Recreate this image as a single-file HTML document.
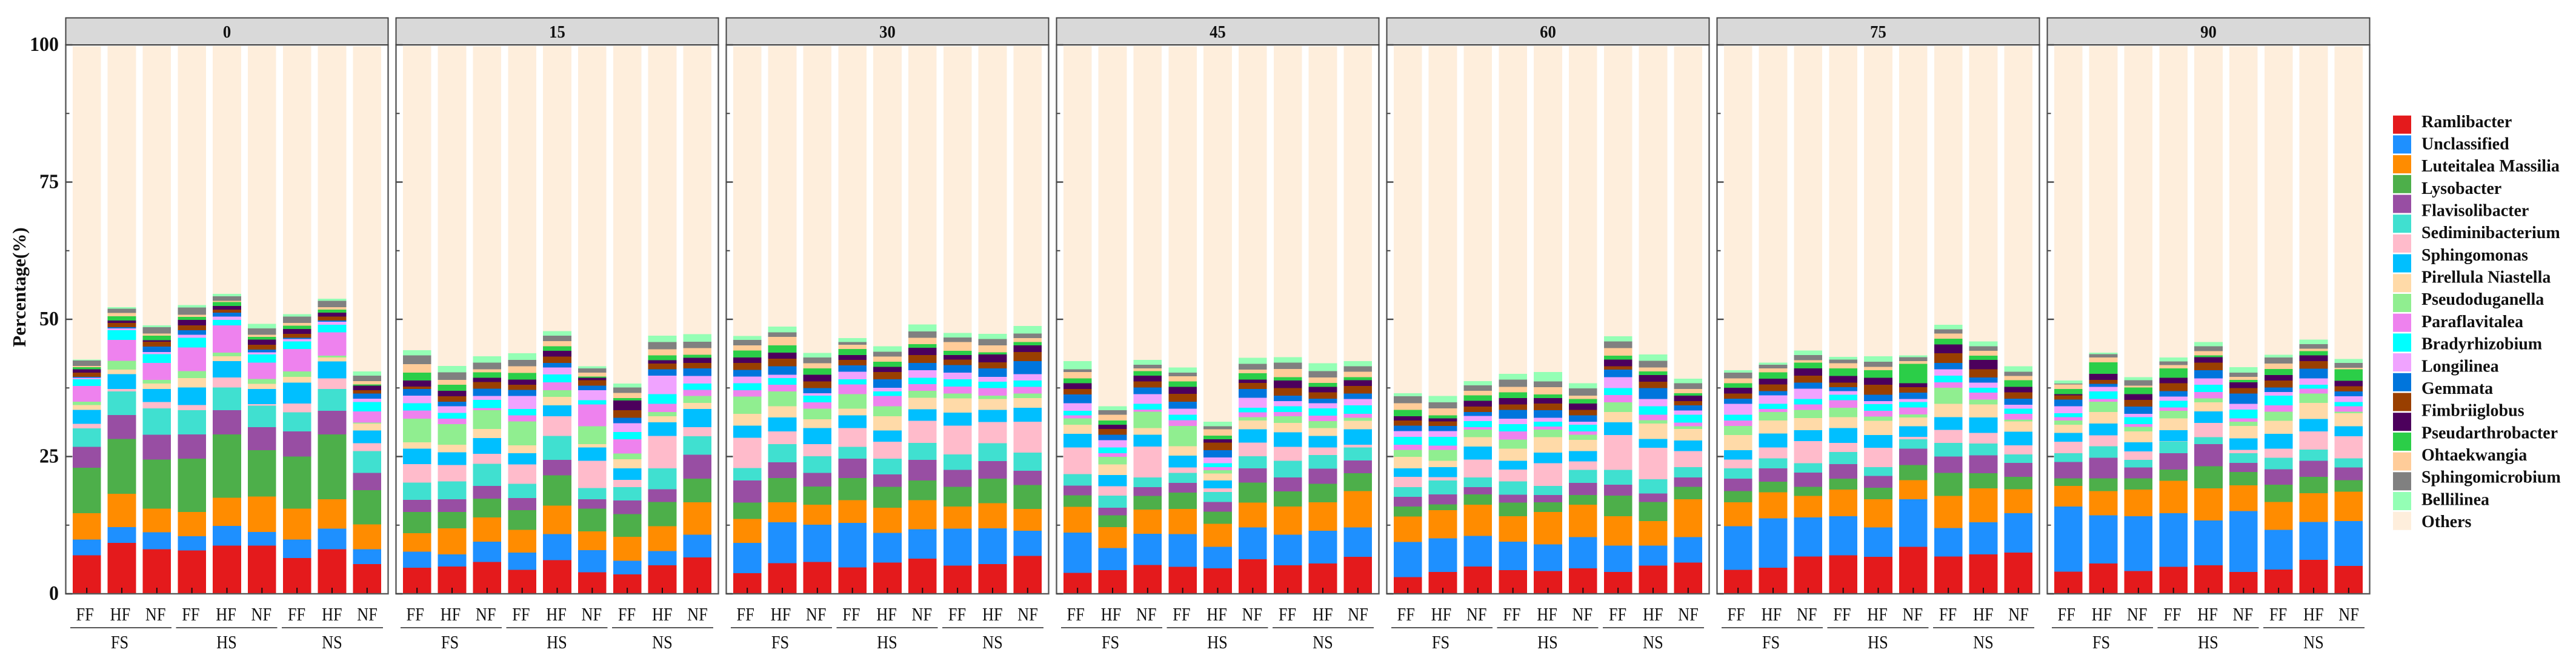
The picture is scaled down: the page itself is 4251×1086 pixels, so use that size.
<!DOCTYPE html>
<html lang="en">
<head>
<meta charset="utf-8">
<title>Genus composition stacked bars</title>
<style>
html,body{margin:0;padding:0;background:#fff;width:4251px;height:1086px;overflow:hidden}
svg{display:block}
text{font-family:"Liberation Serif","Times New Roman",serif;fill:#111}
</style>
</head>
<body>
<svg id="chart" xmlns="http://www.w3.org/2000/svg" width="4251" height="1086" viewBox="0 0 4251 1086"></svg>
<script>
// Categories and tick labels
const panelLabels = ['0','15','30','45','60','75','90'];
const fertLabels = ['FF','HF','NF'];
const soilLabels = ['FS','HS','NS'];
const yMajorTicks = [0,25,50,75,100];
const yMinorTicks = [12.5,37.5,62.5,87.5];
const legendLabels = ['Ramlibacter','Unclassified','Luteitalea Massilia','Lysobacter','Flavisolibacter','Sediminibacterium','Sphingomonas','Pirellula Niastella','Pseudoduganella','Paraflavitalea','Bradyrhizobium','Longilinea','Gemmata','Fimbriiglobus','Pseudarthrobacter','Ohtaekwangia','Sphingomicrobium','Bellilinea','Others'];
const segmentColors = ['#E41A1C','#1E90FF','#FF8C00','#4DAF4A','#984EA3','#40E0D0','#FFBBCB','#00BFFF','#FFDAA8','#90EE90','#EE82EE','#00FFFF','#F0A3FF','#0075DC','#993F00','#4C005C','#2BCE48','#FFCC99','#808080','#94FFB5','#FEEEDC'];

// Series values: percentage of each stack segment, bottom to top, one array per sample
const t0_1 = [7.03,2.83,4.82,8.26,3.82,3.36,.84,2.52,.92,.61,2.83,1.22,.31,.15,.76,.61,.38,.23,.99,.15,57.11];
const t0_2 = [9.25,2.91,6.04,10.02,4.36,4.28,.46,2.68,.84,1.61,3.82,1.76,.31,.23,.76,.46,.76,.61,.76,.31,47.55];
const t0_3 = [8.10,3.13,4.28,8.94,4.51,4.82,1.15,2.37,.99,.69,3.06,1.61,.38,.99,.92,.23,.84,.38,1.15,.38,50.84];
const t0_4 = [7.87,2.60,4.43,9.71,4.43,4.43,.92,3.21,1.68,1.30,4.28,1.76,.54,.84,.92,.99,.54,.38,1.30,.46,47.17];
const t0_5 = [8.79,3.59,5.12,11.54,4.43,4.13,1.83,2.98,.84,.69,4.97,.99,.61,.69,.54,.69,.69,.23,.84,.46,45.11];
const t0_6 = [8.79,2.45,6.50,8.41,4.20,3.90,.31,2.75,.92,.92,2.98,1.45,.38,.54,.84,.99,.46,.38,1.15,.84,50.61];
const t0_7 = [6.50,3.36,5.66,9.48,4.59,3.44,1.61,3.82,1.07,.99,4.05,1.38,.46,.23,.69,.92,.61,.46,1.15,.46,48.85];
const t0_8 = [8.10,3.75,5.35,11.85,4.28,3.98,1.91,3.13,.69,.31,4.28,1.38,.54,.23,.69,.76,.54,.46,1.15,.38,46.02];
const t0_9 = [5.43,2.68,4.51,6.27,3.13,3.98,1.45,2.29,1.30,.15,2.06,1.68,.61,.92,.61,.84,.23,.61,.99,.76,59.25];
const t15_1 = [4.74,2.91,3.36,3.90,2.22,3.13,3.36,2.83,1.15,4.28,1.53,1.30,1.38,1.22,.46,1.07,1.45,1.53,1.61,.92,55.43];
const t15_2 = [4.97,2.22,4.74,2.98,2.29,3.29,2.98,2.29,1.38,3.75,.99,1.07,1.22,.84,.99,.99,1.07,.92,1.38,1.15,58.25];
const t15_3 = [5.81,3.67,4.43,3.44,2.29,4.05,1.83,2.83,1.68,3.44,.38,1.45,.76,1.30,1.22,.76,.99,.54,1.22,1.15,56.50];
const t15_4 = [4.36,3.13,4.13,3.59,2.22,2.60,3.52,2.06,1.45,4.36,1.07,1.15,2.37,1.15,.92,.92,1.22,1.22,1.15,1.22,55.96];
const t15_5 = [6.12,4.74,5.20,5.50,2.83,4.36,3.59,1.99,1.53,1.22,1.45,1.45,1.22,.84,1.15,1.07,.84,.92,.99,.84,51.91];
const t15_6 = [3.90,4.05,3.44,4.13,1.68,2.06,4.97,2.45,.61,3.21,3.98,.76,1.83,.84,.99,.46,.23,.69,.76,.38,58.33];
const t15_7 = [3.52,2.52,4.36,4.13,2.45,2.45,1.30,2.14,1.61,1.07,2.60,1.30,1.61,.99,1.38,1.76,.46,.92,.99,.76,61.47];
const t15_8 = [5.20,2.60,4.51,4.43,2.29,3.82,5.89,2.52,1.07,.76,1.53,1.76,3.36,1.15,1.07,.61,.84,1.15,1.30,1.15,52.75];
const t15_9 = [6.65,4.13,5.89,4.28,4.36,3.36,1.68,3.29,1.15,1.22,1.15,1.15,1.38,1.38,.99,.92,.54,1.22,1.15,1.38,52.52];
const t30_1 = [3.75,5.50,4.36,2.98,4.05,2.29,5.50,2.22,2.14,3.13,1.15,1.30,1.22,1.22,1.22,.99,1.30,.92,.99,.76,52.75];
const t30_2 = [5.58,7.42,3.67,4.43,2.83,3.36,2.29,2.52,2.06,2.68,1.22,1.22,.61,1.53,1.38,1.15,1.30,1.53,.84,1.07,51.07];
const t30_3 = [5.81,6.80,3.59,3.36,2.45,3.06,2.22,2.91,1.61,1.91,1.15,1.22,.46,.92,1.22,1.22,1.15,.92,1.07,.84,55.88];
const t30_4 = [4.82,8.10,4.13,4.05,3.52,2.14,3.44,2.29,1.22,2.68,1.76,.92,1.38,1.15,.99,.92,1.07,.76,.54,.69,53.21];
const t30_5 = [5.66,5.43,4.59,3.82,2.22,2.91,3.06,2.06,2.60,1.83,1.83,.84,.69,1.53,1.30,.99,.92,.92,.92,.99,54.66];
const t30_6 = [6.42,5.35,5.27,3.59,3.75,3.13,3.98,2.14,2.06,1.30,1.22,1.15,1.38,1.30,1.45,1.30,.69,1.15,1.15,1.30,50.69];
const t30_7 = [5.12,6.73,4.05,3.59,3.06,2.83,5.27,2.37,2.60,.84,1.30,1.30,1.22,1.38,.99,.84,.76,1.61,.84,.84,52.21];
const t30_8 = [5.43,6.50,4.59,4.43,3.21,3.29,3.82,2.22,1.99,.61,1.38,1.15,.92,1.53,1.07,1.45,.38,1.30,1.15,.92,52.44];
const t30_9 = [6.88,4.59,3.98,4.36,2.60,3.29,5.66,2.52,1.76,.84,1.22,1.15,1.15,2.37,1.68,1.22,.61,.69,.84,1.38,50.99];
const t45_1 = [3.82,7.34,4.66,2.14,1.76,2.06,4.89,2.45,1.68,1.15,.54,.84,1.38,1.61,.99,1.07,.84,1.15,.54,1.45,57.41];
const t45_2 = [4.28,4.05,3.82,2.14,1.38,2.22,1.68,2.06,1.91,1.38,.69,1.07,1.30,.99,1.07,.76,.76,1.07,.84,.69,65.59];
const t45_3 = [5.27,5.66,4.43,2.45,1.61,1.76,5.66,2.14,1.22,2.98,.38,1.07,1.76,1.22,1.07,1.07,.84,.46,.69,.84,57.18];
const t45_4 = [4.89,5.96,4.59,2.98,1.76,1.83,.99,2.14,1.76,3.67,1.07,.99,1.07,1.30,1.45,1.22,.99,.99,.61,.99,58.48];
const t45_5 = [4.66,3.90,4.20,2.22,1.76,1.83,.61,1.45,1.30,.61,.54,.69,1.07,1.30,1.38,.61,.69,1.15,.54,.84,68.42];
const t45_6 = [6.27,5.81,4.51,3.67,2.60,2.22,2.45,2.45,1.61,.61,.84,.84,1.83,1.61,1.07,.61,1.15,.69,1.07,1.07,56.80];
const t45_7 = [5.20,5.58,5.12,2.75,2.52,3.06,2.52,2.68,1.68,1.22,.76,1.07,.92,.99,1.38,1.38,.61,1.53,1.15,.99,56.65];
const t45_8 = [5.50,5.96,5.20,3.36,2.75,2.52,1.38,2.06,1.45,1.30,.99,1.30,.92,.84,1.15,.99,.76,.99,1.15,1.45,57.72];
const t45_9 = [6.73,5.35,6.65,3.21,2.37,2.37,.46,2.83,1.53,.54,.76,1.53,1.15,.99,1.38,1.07,.54,.99,.99,.92,57.41];
const t60_1 = [3.06,6.35,4.66,1.83,1.76,1.76,1.91,1.53,2.06,1.30,.92,1.45,1.07,.99,.92,.76,1.15,1.22,1.30,.54,63.22];
const t60_2 = [3.98,6.12,5.12,1.07,1.83,2.52,.61,1.83,1.15,1.99,.76,1.61,1.07,.92,.84,.54,.54,1.30,1.07,1.15,63.76];
const t60_3 = [4.97,5.58,5.66,1.91,1.30,1.76,3.29,2.37,1.68,1.38,.46,1.07,.99,.69,.99,1.07,.99,.84,.99,.76,61.01];
const t60_4 = [4.28,5.20,4.66,2.45,1.45,2.45,2.14,1.61,2.22,1.61,1.53,1.30,.99,1.61,.99,1.15,1.07,.99,1.30,1.07,59.71];
const t60_5 = [4.13,4.89,5.89,1.76,1.30,1.68,4.13,1.91,2.83,1.38,.54,.92,.69,1.38,1.22,.99,.69,1.30,1.07,1.68,59.40];
const t60_6 = [4.66,5.66,5.89,1.76,2.22,2.37,1.53,1.91,2.06,.92,.61,1.22,.54,1.15,.99,1.15,.84,.61,1.30,.99,61.39];
const t60_7 = [3.98,4.82,5.35,3.75,1.99,2.68,6.35,2.29,1.91,1.76,1.30,1.30,1.99,1.38,.61,1.22,.69,1.38,1.22,.92,52.90];
const t60_8 = [5.12,3.67,4.43,3.52,1.53,2.60,5.73,1.61,2.83,.61,.99,1.53,1.30,1.99,1.15,1.22,.69,.69,1.22,1.15,56.19];
const t60_9 = [5.66,4.66,6.88,2.29,1.68,1.91,2.91,1.91,2.14,.46,.69,1.45,.76,.92,.76,.99,.46,.76,1.07,.84,60.55];
const t75_1 = [4.36,7.95,4.36,2.06,2.22,1.91,1.61,1.68,2.75,1.68,.99,1.07,1.99,.92,.92,1.07,.84,.84,1.07,.46,59.02];
const t75_2 = [4.74,9.02,4.74,1.91,2.45,1.83,1.99,2.52,2.37,1.53,.54,.99,1.53,.76,1.22,1.07,1.15,.69,.69,.38,57.64];
const t75_3 = [6.80,7.11,3.90,1.68,2.60,1.68,4.05,1.99,2.22,1.45,.99,.99,1.91,1.07,1.30,1.30,1.07,.46,.92,.84,55.43];
const t75_4 = [7.03,7.11,4.82,1.99,2.68,2.22,1.61,2.75,1.99,1.68,1.38,.99,.69,.69,.84,1.22,1.38,.92,.69,.46,56.65];
const t75_5 = [6.73,5.35,5.12,2.14,2.14,1.61,3.52,2.29,2.60,.76,1.07,1.22,.54,1.15,1.83,1.30,1.38,.61,.92,.99,56.50];
const t75_6 = [8.56,8.64,3.52,2.75,2.98,1.68,.46,1.91,1.61,.54,1.30,.99,.54,1.15,.99,.76,3.52,.46,.76,.31,56.34];
const t75_7 = [6.80,5.20,5.81,4.20,2.98,2.52,2.37,2.29,2.45,2.91,.99,1.22,1.15,1.15,1.76,1.61,1.07,.92,.76,.84,50.76];
const t75_8 = [7.19,5.81,6.19,2.75,3.29,2.14,1.91,2.83,2.37,.92,1.22,.92,.92,.92,1.53,1.68,.76,.92,.84,.84,53.82];
const t75_9 = [7.49,7.19,4.36,2.29,2.52,1.53,1.68,2.45,1.91,.31,1.07,.92,.69,1.15,1.15,.99,1.22,.76,.76,.99,58.33];
const t90_1 = [4.05,11.85,3.75,1.38,2.98,1.61,2.06,1.61,1.53,.76,.61,.69,1.30,1.22,.76,.23,.92,.84,.15,.54,60.93];
const t90_2 = [5.50,8.79,4.43,2.29,3.75,2.14,1.99,2.14,2.06,1.91,.46,1.38,.84,.54,.76,1.07,2.14,.84,.61,.31,55.81];
const t90_3 = [4.13,10.01,4.82,2.06,1.99,1.38,1.53,1.68,1.99,.84,.46,1.30,.61,1.30,1.22,1.07,1.22,.31,.99,.54,60.32];
const t90_4 = [4.89,9.79,5.89,2.06,2.98,2.14,.08,1.99,2.14,1.38,.61,1.22,.76,.99,1.45,.99,1.68,.61,.69,.69,56.73];
const t90_5 = [5.20,8.18,5.81,4.05,4.05,1.22,2.60,2.14,1.61,.76,1.15,1.30,1.15,1.53,1.38,.99,.31,.76,.92,.76,53.90];
const t90_6 = [3.98,11.09,4.66,2.45,1.68,1.76,.61,2.06,2.29,.76,.61,1.61,1.07,1.83,.99,1.07,.46,.54,.76,.99,58.48];
const t90_7 = [4.43,7.19,5.12,3.13,2.83,2.06,1.68,2.68,2.37,1.68,1.15,1.76,.69,.84,1.22,.99,1.15,.99,1.07,.54,56.19];
const t90_8 = [6.19,6.88,5.27,2.98,2.91,2.06,3.29,2.29,2.91,1.68,.92,.69,1.15,1.76,1.38,1.07,.76,.46,.84,.84,53.44];
const t90_9 = [5.05,8.18,5.35,2.14,2.29,1.68,3.98,1.83,2.37,.31,.99,.76,1.07,.84,.99,.99,2.06,.31,.84,.76,56.95];

const samplesByPanel = [
  [t0_1,t0_2,t0_3,t0_4,t0_5,t0_6,t0_7,t0_8,t0_9],
  [t15_1,t15_2,t15_3,t15_4,t15_5,t15_6,t15_7,t15_8,t15_9],
  [t30_1,t30_2,t30_3,t30_4,t30_5,t30_6,t30_7,t30_8,t30_9],
  [t45_1,t45_2,t45_3,t45_4,t45_5,t45_6,t45_7,t45_8,t45_9],
  [t60_1,t60_2,t60_3,t60_4,t60_5,t60_6,t60_7,t60_8,t60_9],
  [t75_1,t75_2,t75_3,t75_4,t75_5,t75_6,t75_7,t75_8,t75_9],
  [t90_1,t90_2,t90_3,t90_4,t90_5,t90_6,t90_7,t90_8,t90_9]
];

const NS = 'http://www.w3.org/2000/svg';
const svg = document.getElementById('chart');
const panelW = 532, panelStep = 545, panelX0 = 108.5;
const stripTop = 29.5, stripBottom = 74, axisBottom = 980;
const unit = panelW / 9.2;
const barW = 46.8;
const yScale = v => axisBottom - v * 9.06;
const panelX = p => panelX0 + p * panelStep;
const xScale = (p, i) => panelX(p) + (0.6 + i) * unit;

function mk(tag, attrs, parent) {
  const el = document.createElementNS(NS, tag);
  for (const k in attrs) el.setAttribute(k, attrs[k]);
  (parent || svg).appendChild(el);
  return el;
}
function label(str, x, y, size, weight, anchor, sx, parent) {
  const el = mk('text', {transform: `translate(${x},${y}) scale(${sx},1)`, 'font-size': size, 'font-weight': weight, 'text-anchor': anchor}, parent);
  el.textContent = str;
  return el;
}

// Y axis title
const yTitle = mk('text', {transform: 'translate(42,474) rotate(-90)', 'font-size': 31, 'font-weight': 'bold', 'text-anchor': 'middle'});
yTitle.textContent = 'Percentage(%)';



// Y tick labels
yMajorTicks.forEach(v => {
  const t = label(String(v), 97, yScale(v) + 10, 34, 'bold', 'end', 0.94);
  
  
});

samplesByPanel.forEach((samples, p) => {
  const px = panelX(p);
  const g = mk('g', {});
  
  

  samples.forEach((values, i) => {
    const cx = xScale(p, i);
    const barG = mk('g', {}, g);
    
    
    let cum = 0;
    values.forEach((v, s) => {
      const top = yScale(cum + v);
      const seg = mk('rect', {x: cx - barW / 2, y: top, width: barW, height: yScale(cum) - top, fill: segmentColors[s], 'shape-rendering': 'crispEdges'}, barG);
      
      
      cum += v;
    });
    const tick = mk('line', {x1: cx, x2: cx, y1: axisBottom, y2: axisBottom - 10, stroke: '#111', 'stroke-width': 2}, g);
    
    
    const xl = label(fertLabels[i % 3], cx - 3 + i * 0.4, 1024, 31, 'normal', 'middle', 0.85, g);
    
    
  });

  const border = mk('rect', {x: px, y: stripBottom, width: panelW, height: axisBottom - stripBottom, fill: 'none', stroke: '#5a5a5a', 'stroke-width': 2.4}, g);
  
  

  const strip = mk('rect', {x: px, y: stripTop, width: panelW, height: stripBottom - stripTop, fill: '#d9d9d9', stroke: '#444', 'stroke-width': 2}, g);
  
  

  const stripText = label(panelLabels[p], px + panelW / 2, 62, 29, 'bold', 'middle', 0.92, g);
  
  

  yMajorTicks.forEach(v => {
    const t = mk('line', {x1: px, x2: px + 11, y1: yScale(v), y2: yScale(v), stroke: '#444', 'stroke-width': 2.4}, g);
    
    
  });
  yMinorTicks.forEach(v => {
    const t = mk('line', {x1: px, x2: px + 6, y1: yScale(v), y2: yScale(v), stroke: '#444', 'stroke-width': 2}, g);
    
    
  });

  soilLabels.forEach((name, k) => {
    const lx = px + 7.5 + k * 174.5;
    const ln = mk('line', {x1: lx, x2: lx + 167, y1: 1036, y2: 1036, stroke: '#555', 'stroke-width': 2}, g);
    
    
    const t = label(name, xScale(p, 3 * k + 1) + (k === 0 ? -3.5 : k === 1 ? -0.5 : 0), 1070, 31, 'normal', 'middle', 0.85, g);
    
    
  });
});

// Legend swatches (21 colours) and labels (19 names)
const legend = mk('g', {});


segmentColors.forEach((c, i) => {
  const r = mk('rect', {x: 3949, y: 190.7 + i * 32.7, width: 30, height: 30, fill: c}, legend);
  
  
});
legendLabels.forEach((name, i) => {
  const t = label(name, 3996, 209.8 + i * 36.68, 28, 'bold', 'start', 1, legend);
  
  
});
</script>
</body>
</html>
